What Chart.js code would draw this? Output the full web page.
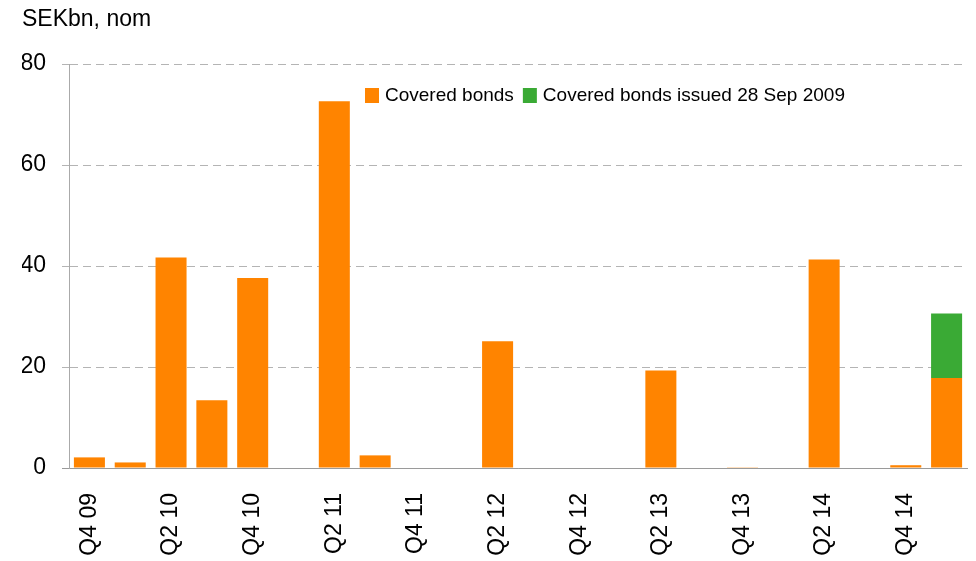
<!DOCTYPE html>
<html>
<head>
<meta charset="utf-8">
<script src="https://cdn.jsdelivr.net/npm/chart.js@4.4.0/dist/chart.umd.min.js"></script>
<style>
  html, body { margin: 0; padding: 0; background: #fff; }
  canvas { display: block; }
</style>
</head>
<body>
<canvas id="grafico" width="976" height="561"></canvas>
<script>
// Kvartal från Q4 09 till Q1 15
const kvartal = [
  'Q4 09', 'Q1 10', 'Q2 10', 'Q3 10', 'Q4 10', 'Q1 11', 'Q2 11', 'Q3 11',
  'Q4 11', 'Q1 12', 'Q2 12', 'Q3 12', 'Q4 12', 'Q1 13', 'Q2 13', 'Q3 13',
  'Q4 13', 'Q1 14', 'Q2 14', 'Q3 14', 'Q4 14', 'Q1 15'
];

// Förfall, mdr kr nominellt
const sakerstallda = [
  2.1, 1.1, 41.7, 13.4, 37.6, 0, 72.6, 2.5,
  0, 0, 25.1, 0, 0, 0, 19.3, 0,
  0.15, 0, 41.3, 0, 0.55, 17.8
];
const emitterade2009 = [
  0, 0, 0, 0, 0, 0, 0, 0,
  0, 0, 0, 0, 0, 0, 0, 0,
  0, 0, 0, 0, 0, 12.8
];

const yTicks = [0, 20, 40, 60, 80];

const ORANGE = '#ff8400';
const GRON   = '#3aaa35';
const FONT   = "'Liberation Sans', Arial, sans-serif";

// Förklaring inne i diagramytan
const legendPlugin = {
  id: 'legendInne',
  afterDraw(chart) {
    const ctx = chart.ctx;
    let x = 365;
    const y = 95;
    ctx.save();
    ctx.font = '19px ' + FONT;
    ctx.textBaseline = 'middle';
    chart.data.datasets.forEach(ds => {
      ctx.fillStyle = ds.backgroundColor;
      ctx.fillRect(x, y - 7, 14, 15);
      x += 20;
      ctx.fillStyle = '#000';
      ctx.fillText(ds.label, x, y + 1);
      x += ctx.measureText(ds.label).width + 9;
    });
    ctx.restore();
  }
};

new Chart(document.getElementById('grafico'), {
  type: 'bar',
  data: {
    labels: kvartal,
    datasets: [
      { label: 'Covered bonds', data: sakerstallda, backgroundColor: ORANGE },
      { label: 'Covered bonds issued 28 Sep 2009', data: emitterade2009, backgroundColor: GRON }
    ]
  },
  options: {
    responsive: false,
    animation: false,
    layout: { padding: { left: 22, right: 9, top: 0, bottom: 0 } },
    datasets: { bar: { barPercentage: 0.76, categoryPercentage: 1 } },
    plugins: {
      legend: { display: false },
      tooltip: { enabled: false },
      title: {
        display: true,
        text: 'SEKbn, nom',
        align: 'start',
        color: '#000',
        font: { family: FONT, size: 23, weight: 'normal' },
        padding: { top: 6, bottom: 30.4 }
      }
    },
    scales: {
      x: {
        stacked: true,
        grid: { display: false },
        border: { display: true, color: '#9a9a9a', width: 1 },
        ticks: {
          autoSkip: false,
          maxRotation: 90,
          minRotation: 90,
          padding: 17,
          color: '#000',
          font: { family: FONT, size: 23 },
          callback: (v, i) => (i % 2 === 0 ? kvartal[i] : '')
        },
        afterFit(scale) {
          scale.height = 93;
          scale.paddingLeft = 0;
          scale.paddingRight = 0;
        }
      },
      y: {
        stacked: true,
        min: 0,
        max: 80,
        afterBuildTicks(scale) { scale.ticks = yTicks.map(v => ({ value: v })); },
        grid: {
          color: ctx => (ctx.tick && ctx.tick.value === 0 ? '#9a9a9a' : '#b4b4b4'),
          tickLength: 7,
          lineWidth: 1
        },
        border: {
          display: true,
          color: '#aaaaaa',
          width: 1,
          dash: ctx => (ctx.tick && ctx.tick.value === 0 ? [] : [8, 5])
        },
        ticks: {
          padding: 16,
          color: '#000',
          font: { family: FONT, size: 23 }
        },
        afterFit(scale) { scale.width = 47; }
      }
    }
  },
  plugins: [legendPlugin]
});
</script>
</body>
</html>
